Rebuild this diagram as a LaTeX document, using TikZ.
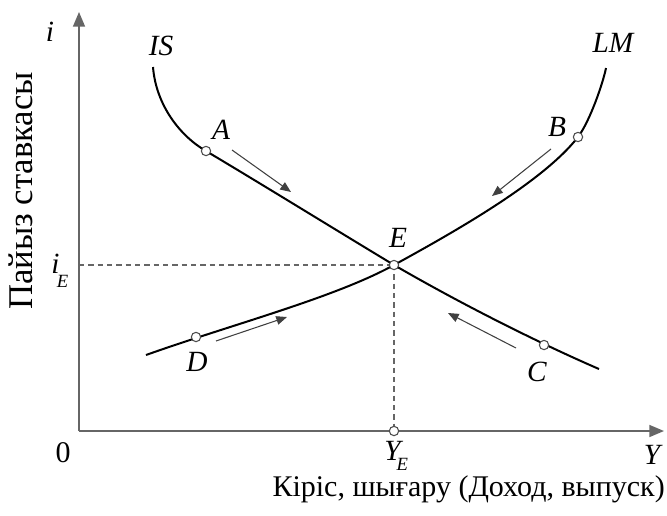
\documentclass[tikz,border=0pt]{standalone}
\usepackage{fontspec}
\setmainfont{Liberation Serif}
\usetikzlibrary{arrows.meta}
\begin{document}
\begin{tikzpicture}[x=0.75pt,y=-0.75pt,
  axis/.style={draw=black!60, line width=1.1pt},
  curve/.style={draw=black, line width=1.5pt},
  guide/.style={draw=black!60, line width=0.8pt, dash pattern=on 4pt off 3pt},
  move/.style={draw=black!75, line width=0.8pt, -{Triangle[length=8pt,width=6.5pt]}},
  pt/.style={circle, draw=black!70, fill=white, line width=0.8pt, inner sep=0pt, minimum size=7pt},
  lab/.style={font=\fontsize{22}{24}\selectfont\itshape, inner sep=0pt},
  txt/.style={font=\fontsize{22.5}{24}\selectfont, inner sep=0pt}]
\useasboundingbox (0,0) rectangle (667,515);
% axes
\coordinate (O) at (79,431);
\coordinate (ytop) at (79,12);
\coordinate (xend) at (664,431);
\draw[axis, -{Triangle[length=11pt,width=9pt]}] (O) -- (ytop);
\draw[axis, -{Triangle[length=11pt,width=9pt]}] (O) -- (xend);
% points
\coordinate (Ec) at (394,265);
\coordinate (iE) at (79,265);
\coordinate (YEc) at (394,431);
\draw[guide] (iE) -- (Ec);
\draw[guide] (Ec) -- (YEc);
% IS curve
\draw[curve] (153,67) .. controls (156,105) and (180,136) .. (206,151)
  .. controls (268,188) and (331,227) .. (Ec)
  .. controls (463,305) and (539,343) .. (599,369);
% LM curve
\draw[curve] (146,355) .. controls (230,325) and (334,298) .. (Ec)
  .. controls (454,232) and (543,182) .. (578,137)
  .. controls (590,121) and (603,83) .. (606,68);
% circles
\node[pt] (A) at (206,151) {};
\node[pt] (B) at (578,137) {};
\node[pt] (C) at (544,345) {};
\node[pt] (D) at (196,337) {};
\node[pt] (E) at (Ec) {};
\node[pt] (YE) at (YEc) {};
% movement arrows
\coordinate (a1) at (232,150); \coordinate (a2) at (291,192);
\coordinate (b1) at (551,149); \coordinate (b2) at (492,196);
\coordinate (c1) at (516,348); \coordinate (c2) at (448,313);
\coordinate (d1) at (216,341); \coordinate (d2) at (287,317);
\draw[move] (a1) -- (a2);
\draw[move] (b1) -- (b2);
\draw[move] (c1) -- (c2);
\draw[move] (d1) -- (d2);
% labels
\node[lab] (li) at (50,32) {i};
\node[lab] (lIS) at (161,46) {IS};
\node[lab] (lLM) at (613,43) {LM};
\node[lab] (lA) at (221,130) {A};
\node[lab] (lB) at (557,127) {B};
\node[lab] (lE) at (398,238) {E};
\node[lab] (lD) at (197,362) {D};
\node[lab] (lC) at (537,372) {C};
\node[lab, anchor=base west] (liE) at (51,273) {i\kern-2pt\raisebox{-10.5pt}{\fontsize{14}{16}\selectfont E}};
\node[lab, anchor=base west] (lYE) at (384,460) {Y\kern-3pt\raisebox{-8pt}{\fontsize{14}{16}\selectfont E}};
\node[txt] (l0) at (63,453) {0};
\node[lab] (lY) at (652,455) {Y};
\node[txt, anchor=east] (xl) at (665,489) {Кіріс, шығару (Доход, выпуск)};
\node[font=\fontsize{26}{28}\selectfont, inner sep=0pt, rotate=90] (yl) at (21,191) {Пайыз ставкасы};
\end{tikzpicture}
\end{document}
